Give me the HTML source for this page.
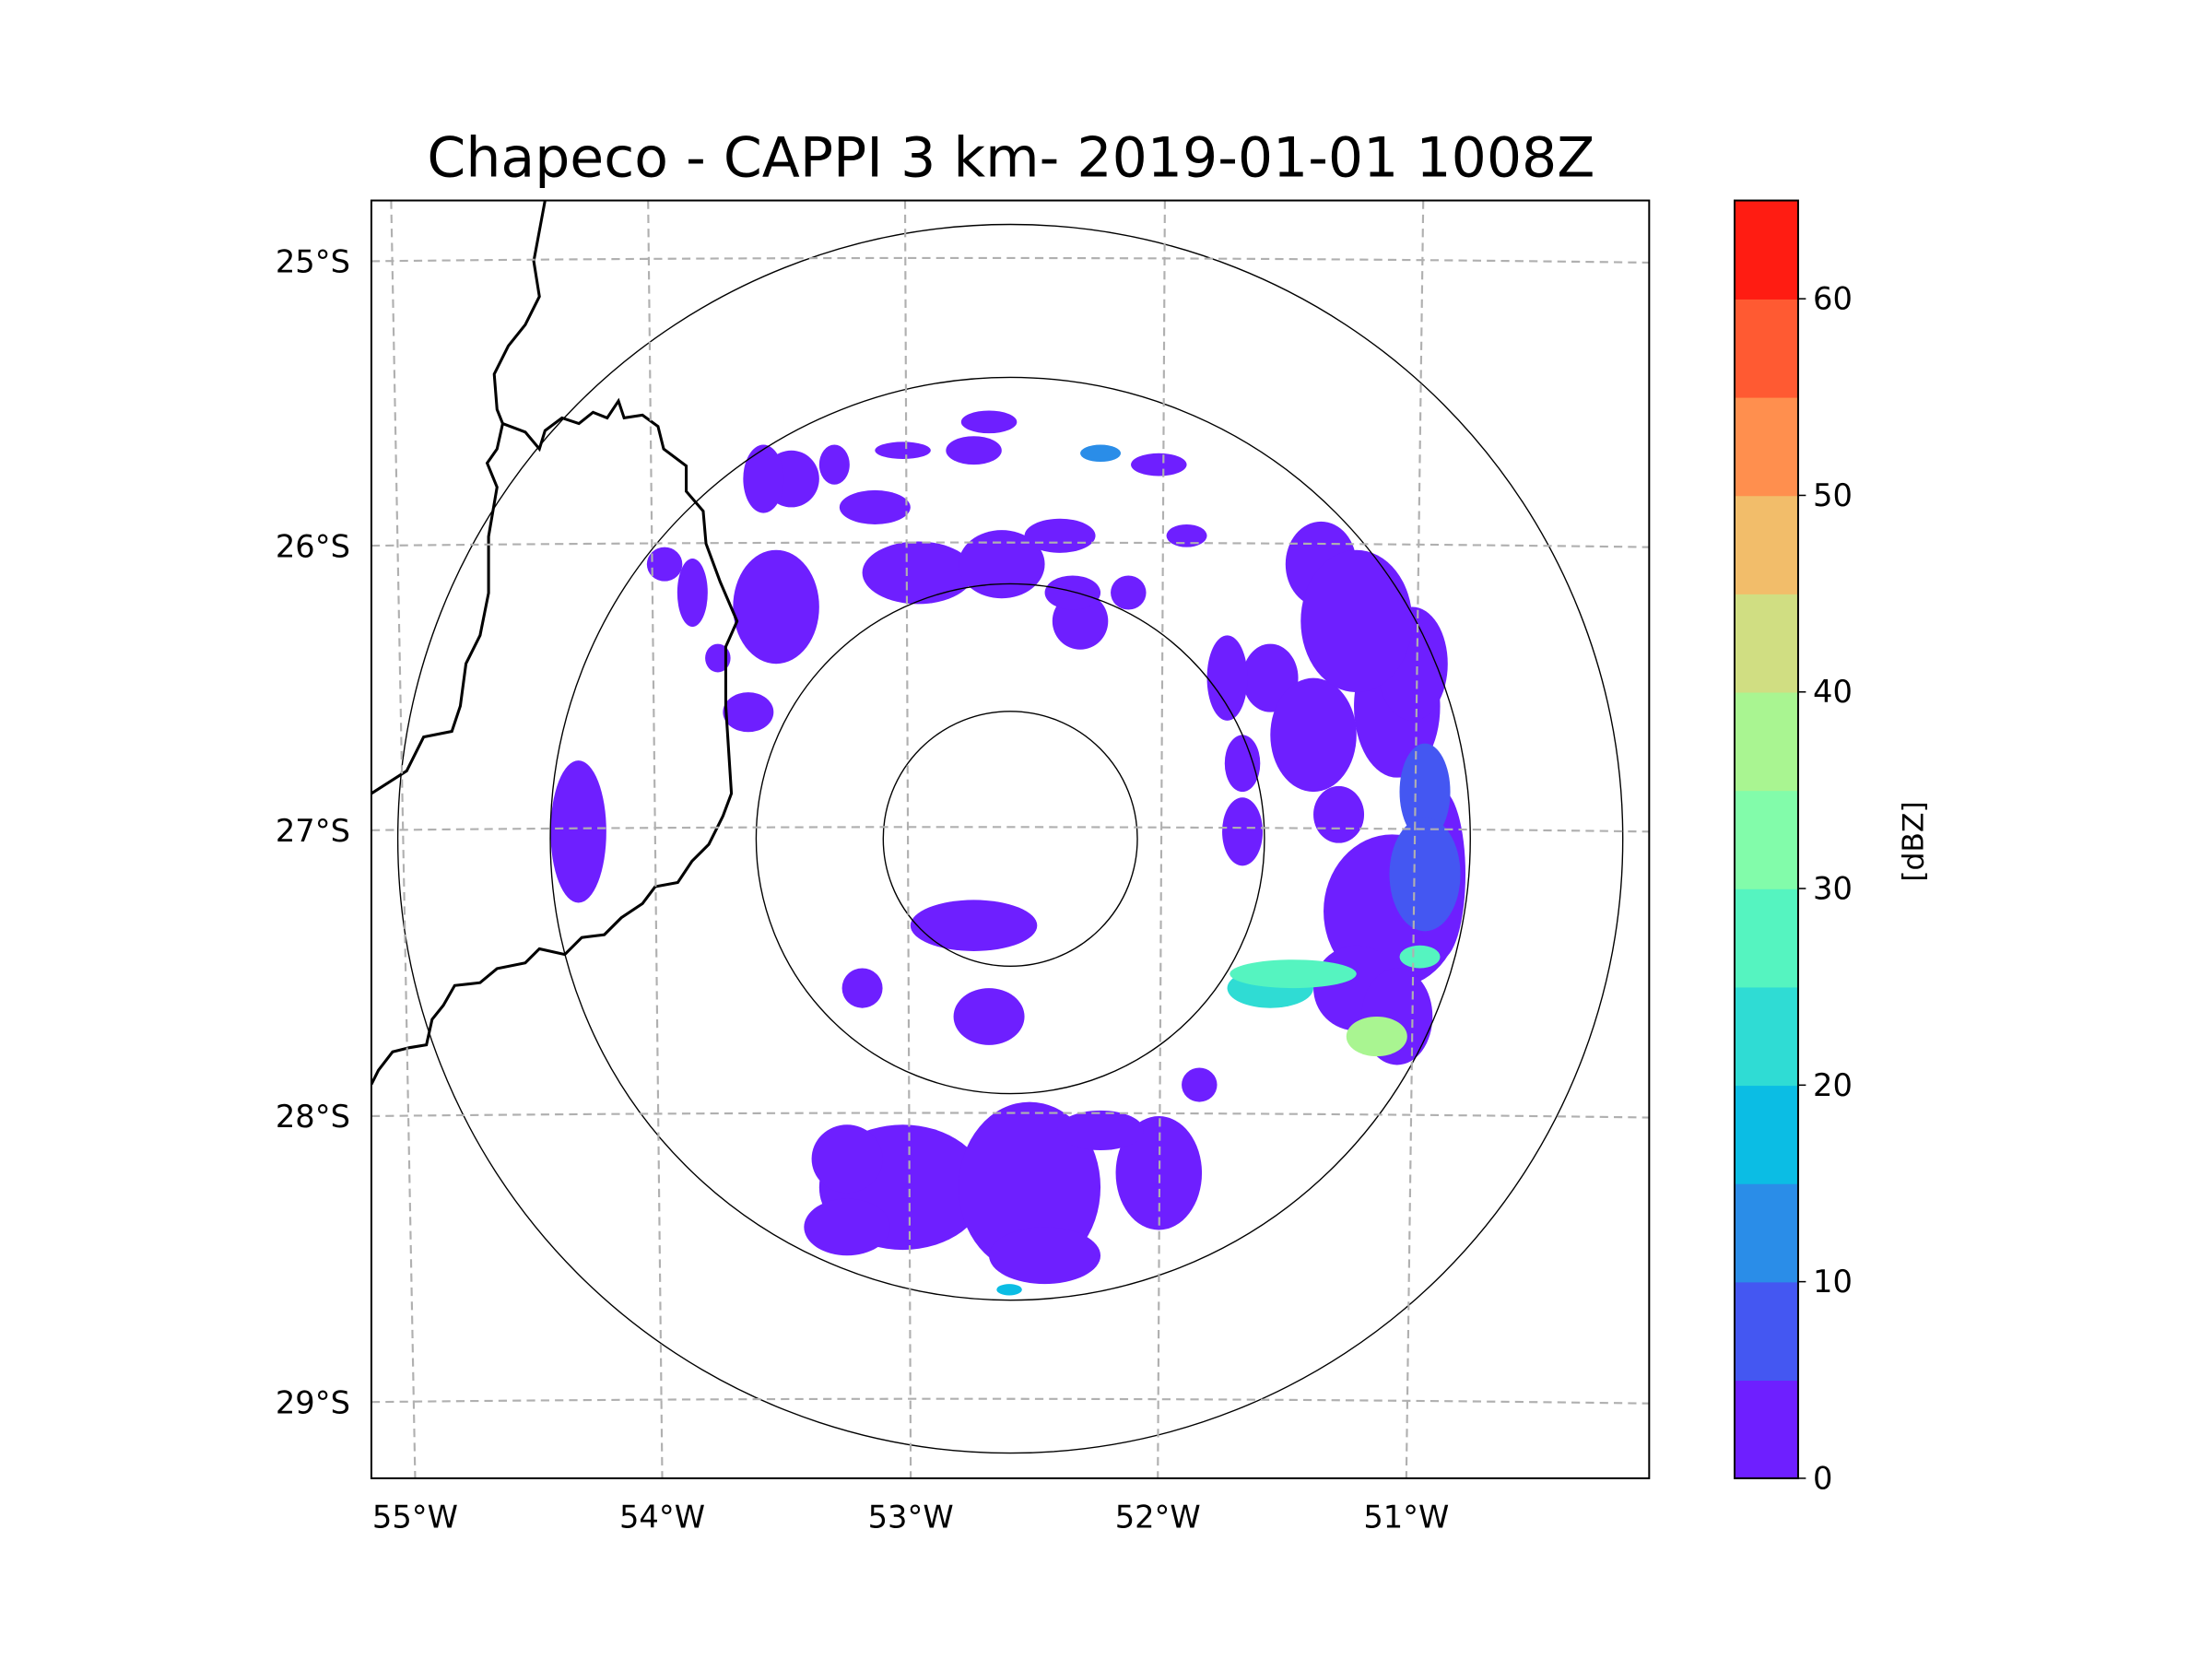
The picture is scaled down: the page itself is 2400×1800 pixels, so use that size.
<!DOCTYPE html>
<html><head><meta charset="utf-8"><title>Chapeco CAPPI</title>
<style>html,body{margin:0;padding:0;background:#fff}svg{display:block}text{font-family:"DejaVu Sans","Liberation Sans",sans-serif;fill:#000}</style>
</head><body>
<svg id="chart" width="2400" height="1800" viewBox="0 0 1566.6 1175" xmlns="http://www.w3.org/2000/svg">
<text x="716" y="125" font-size="39.2" text-anchor="middle">Chapeco - CAPPI 3 km- 2019-01-01 1008Z</text>
<defs><clipPath id="plotclip"><rect x="263" y="142" width="905" height="905"/></clipPath></defs>
<g id="data" clip-path="url(#plotclip)"></g>
<g id="rings" clip-path="url(#plotclip)"></g>
<g clip-path="url(#plotclip)" fill="none" stroke="#000" stroke-width="2">
<path d="M386,142 L378,185 L382,210 L372,230 L360,245 L350,265 L352,290 L356,300 L352,318 L345,328 L352,345 L346,380 L346,420 L340,450 L330,470 L326,500 L320,518 L300,522 L288,546 L263,562"/>
<path d="M356,300 L372,306 L382,318 L386,305 L398,296 L410,300 L420,292 L430,296 L438,284 L442,296 L455,294 L466,302 L470,318 L486,330 L486,348 L498,362 L500,385 L510,412 L522,440 L514,458 L514,500 L518,562 L512,578 L502,598 L490,610 L480,625 L464,628 L455,640 L440,650 L428,662 L412,664 L400,676 L382,672 L372,682 L352,686 L340,696 L322,698 L314,712 L306,722 L302,740 L290,742 L278,745 L268,758 L263,768"/>
</g>
<g id="grid" clip-path="url(#plotclip)" fill="none" stroke="#b0b0b0" stroke-width="1.4" stroke-dasharray="6,4"></g>
<rect x="263" y="142" width="905" height="905" fill="none" stroke="#000" stroke-width="1.3"/>
<g id="axes"></g>
<g id="cbar"></g>
<text x="0" y="0" font-size="20.5" text-anchor="middle" transform="translate(1362,596) rotate(-90)">[dBZ]</text>
</svg>
<script>
const NS="http://www.w3.org/2000/svg";
const latTicks=[-25,-26,-27,-28,-29];
const latLabels=["25°S","26°S","27°S","28°S","29°S"];
const lonTicks=[-55,-54,-53,-52,-51];
const lonLabels=["55°W","54°W","53°W","52°W","51°W"];
const cbarTicks=[0,10,20,30,40,50,60];
const cbarBins=[0,5,10,15,20,25,30,35,40,45,50,55,60,65];
const cbarColors=["#6e1fff","#4457f2","#2a8de8","#0bbde4","#2fdcd4","#55f4c0","#82fcaa","#a9f591","#d0de82","#f2bd6a","#ff8f4e","#ff5a32","#ff1c12"];
const ringKm=[50,100,181,241];
const radarLon=-52.596, radarLat=-27.035;
// blobs: lon, lat, rx(deg), ry(deg), dBZ
const blobLon=[-51.09,-50.96,-51.23,-51.07,-51.40,-50.96,-51.57,-51.48,-51.15,-51.23,-53.02,-52.52,-53.24,-52.01,-52.46,-53.52,-52.96,-52.63,-52.32,-53.46,-52.74,-53.13,-52.40,-54.30,-52.74,-52.68,-53.18,-53.63,-51.68,-52.24,-51.30,-50.98,-52.60,-51.85,-53.75,
 -51.37,-51.01,-50.90,-51.74,-51.68,-51.07,-51.57,-53.57,-53.29,-53.85,-53.96,-53.02,-52.35,-52.13,-52.01,-52.68,-51.90,-52.24,-53.24];
const blobLat=[-27.29,-27.16,-26.27,-26.57,-26.67,-26.87,-26.47,-27.51,-27.73,-27.56,-28.26,-28.26,-28.16,-28.21,-28.50,-26.22,-26.10,-26.07,-26.27,-25.77,-25.67,-25.87,-25.97,-27.01,-27.34,-27.66,-27.56,-26.59,-27.01,-25.68,-26.95,-27.45,-28.62,-27.90,-26.40,
 -26.07,-26.42,-27.16,-26.47,-26.77,-27.66,-27.56,-25.77,-25.72,-26.17,-26.07,-25.67,-26.17,-26.17,-25.72,-25.57,-25.97,-28.06,-28.40];
const blobRx=[0.27,0.14,0.22,0.17,0.17,0.10,0.11,0.25,0.12,0.17,0.33,0.28,0.14,0.17,0.22,0.17,0.22,0.17,0.11,0.11,0.11,0.14,0.14,0.11,0.25,0.14,0.08,0.10,0.08,0.08,0.10,0.08,0.05,0.07,0.05,
 0.14,0.14,0.10,0.08,0.07,0.14,0.17,0.08,0.06,0.06,0.07,0.11,0.11,0.07,0.11,0.11,0.08,0.17,0.17];
const blobRy=[0.27,0.20,0.25,0.25,0.20,0.17,0.12,0.05,0.07,0.15,0.22,0.30,0.12,0.20,0.10,0.20,0.11,0.12,0.10,0.10,0.05,0.06,0.06,0.25,0.09,0.10,0.07,0.07,0.12,0.03,0.10,0.04,0.02,0.06,0.05,
 0.15,0.20,0.30,0.15,0.10,0.17,0.07,0.12,0.07,0.12,0.06,0.03,0.06,0.06,0.04,0.04,0.04,0.07,0.10];
const blobDbz=[2,8,4,3,3,6,2,25,35,3,1,1,2,2,3,2,2,3,2,2,2,2,2,2,2,2,2,2,3,12,4,28,18,3,2,
 3,3,3,2,3,4,20,2,2,2,2,2,2,2,2,2,2,4,2];

function x(lon){return 643+(lon+53)*179.5;}
function y(lat){return 587-(lat+27)*201.5;}
function kmPx(km){return km*1.8;}
function cbY(v){return 1047-(v/65)*(1047-142);}
function colorFor(v){for(let i=cbarColors.length-1;i>=0;i--){if(v>=cbarBins[i])return cbarColors[i];}return cbarColors[0];}
function mk(tag,attrs,parent){const e=document.createElementNS(NS,tag);for(const k in attrs)e.setAttribute(k,attrs[k]);parent.appendChild(e);return e;}

const data=document.getElementById('data');
const order=blobLon.map((_,i)=>i).sort((a,b)=>blobDbz[a]-blobDbz[b]);
for(const i of order){
  const e=mk('ellipse',{cx:x(blobLon[i]),cy:y(blobLat[i]),rx:blobRx[i]*179.5,ry:blobRy[i]*201.5,fill:colorFor(blobDbz[i])},data);
  
  
}
const rings=document.getElementById('rings');
for(const km of ringKm){
  const c=mk('ellipse',{cx:x(radarLon),cy:y(radarLat),rx:kmPx(km),ry:kmPx(km)*1.003,fill:'none',stroke:'#000','stroke-width':0.9},rings);
  
  
}
const grid=document.getElementById('grid');
const axes=document.getElementById('axes');
const lonTop=[277,459,641,825,1008], lonBot=[294,469,645,820,996];
lonTicks.forEach((lon,i)=>{
  const xb=lonBot[i];
  const l=mk('line',{x1:lonTop[i],y1:142,x2:xb,y2:1047},grid);
  
  
  const t=mk('text',{x:xb,y:1082,'font-size':22,'text-anchor':'middle'},axes);
  t.textContent=lonLabels[i];
  
  
});
latTicks.forEach((lat,i)=>{
  const yy=y(lat)+(lat<=-28?(-27-lat):0)+1;
  const p=mk('path',{d:`M263,${yy} Q716,${yy-5} 1168,${yy+1}`},grid);
  
  
  const t=mk('text',{x:248,y:yy+8,'font-size':22,'text-anchor':'end'},axes);
  t.textContent=latLabels[i];
  
  
});
const cbar=document.getElementById('cbar');
for(let i=0;i<cbarColors.length;i++){
  const r=mk('rect',{x:1228.5,y:cbY(cbarBins[i+1]),width:45,height:cbY(cbarBins[i])-cbY(cbarBins[i+1])+0.5,fill:cbarColors[i]},cbar);
  
  
}
mk('rect',{x:1228.5,y:142,width:45,height:905,fill:'none',stroke:'#000','stroke-width':1.3},cbar);
cbarTicks.forEach(v=>{
  const l=mk('line',{x1:1273.5,y1:cbY(v),x2:1279,y2:cbY(v),stroke:'#000','stroke-width':1},cbar);
  
  
  const t=mk('text',{x:1284,y:cbY(v)+7.5,'font-size':22},cbar);
  t.textContent=String(v);
  
  
});
</script>
</body></html>
